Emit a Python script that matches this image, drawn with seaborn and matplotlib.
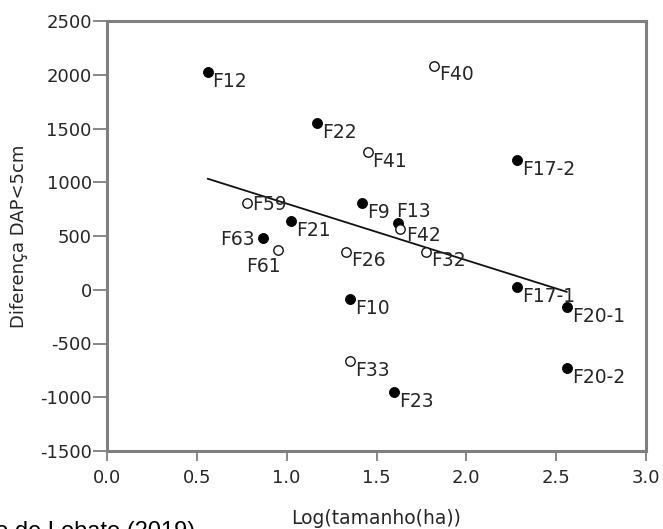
import matplotlib
matplotlib.use("Agg")
import matplotlib.pyplot as plt
import seaborn as sns
import pandas as pd

# Fragment labels, log10 of fragment area (ha) and difference in stems with DAP < 5 cm
labels = ["F12", "F40", "F22", "F41", "F17-2", "F59", "F9", "F13", "F42", "F21",
          "F63", "F61", "F26", "F32", "F17-1", "F10", "F20-1", "F33", "F20-2", "F23"]
log_area = [0.56, 1.82, 1.17, 1.45, 2.28, 0.78, 1.42, 1.62, 1.63, 1.025,
            0.87, 0.95, 1.33, 1.775, 2.28, 1.352, 2.56, 1.355, 2.56, 1.60]
diff_dap = [2022, 2083, 1549, 1281, 1204, 809, 805, 621, 565, 635,
            485, 370, 355, 355, 22, -90, -164, -667, -728, -954]
# True = filled marker, False = open marker
filled = [True, False, True, False, True, False, True, True, False, True,
          True, False, False, False, True, True, True, False, True, True]

x_ticks = [0.0, 0.5, 1.0, 1.5, 2.0, 2.5, 3.0]
y_ticks = [-1500, -1000, -500, 0, 500, 1000, 1500, 2000, 2500]

df = pd.DataFrame({"label": labels, "x": log_area, "y": diff_dap, "filled": filled})

sns.set_theme(style="white")
plt.rcParams["font.family"] = ["DejaVu Sans"]

TXT = "#262626"
GRID = "#7f7f7f"

fig = plt.figure(figsize=(6.63, 5.29), dpi=100)
ax = fig.add_axes([107 / 663, 1 - 451 / 529, 539 / 663, 430 / 529])

# least-squares fit over all fragments
sns.regplot(data=df, x="x", y="y", scatter=False, ci=None, truncate=True,
            color="#111111", line_kws={"lw": 1.3}, ax=ax)

sns.scatterplot(data=df[df["filled"]], x="x", y="y", s=52, color="black",
                edgecolor="black", linewidth=0.6, ax=ax, zorder=3)
sns.scatterplot(data=df[~df["filled"]], x="x", y="y", s=46, color="white",
                edgecolor="#111111", linewidth=1.0, ax=ax, zorder=3)

# label placement (pixels relative to the marker)
offsets = {
    "F63": (-9, -2, "right", "center"),
    "F61": (3, -17, "right", "center"),
    "F13": (-2, 11, "left", "center"),
    "F59": (5, -2, "left", "center"),
    "F42": (6, -6, "left", "center"),
}
for lab, xv, yv in zip(labels, log_area, diff_dap):
    dx, dy, ha, va = offsets.get(lab, (5, -9, "left", "center"))
    ax.annotate(lab, (xv, yv), xytext=(dx, dy), textcoords="offset pixels",
                ha=ha, va=va, fontsize=13.5, color=TXT, zorder=4)

ax.set_xlim(0, 3)
ax.set_ylim(-1500, 2500)
ax.set_xticks(x_ticks)
ax.set_xticklabels([f"{t:.1f}" for t in x_ticks])
ax.set_yticks(y_ticks)
ax.set_yticklabels([str(t) for t in y_ticks])

for sp in ax.spines.values():
    sp.set_visible(True)
    sp.set_color(GRID)
    sp.set_linewidth(2.2)
ax.tick_params(axis="both", which="major", width=1.3, color=GRID,
               labelsize=13, labelcolor=TXT)
ax.tick_params(axis="x", bottom=True, length=7, pad=6)
ax.tick_params(axis="y", left=True, length=10, pad=1)

ax.set_xlabel("Log(tamanho(ha))", fontsize=13.5, color=TXT)
ax.xaxis.set_label_coords(0.5, (451 - 509) / 430)
ax.xaxis.label.set_va("top")
ax.set_ylabel("Diferença DAP<5cm", fontsize=13, color=TXT)
ax.yaxis.set_label_coords((19 - 107) / 539, 0.5)
ax.yaxis.label.set_va("center")

fig.text(195 / 663, 1 - 521 / 529, "Fonte: adaptado de Lobato (2019)",
         ha="right", va="top", fontsize=17, color="black",
         family=["Liberation Sans", "DejaVu Sans"])

fig.savefig("out.png", dpi=100)
